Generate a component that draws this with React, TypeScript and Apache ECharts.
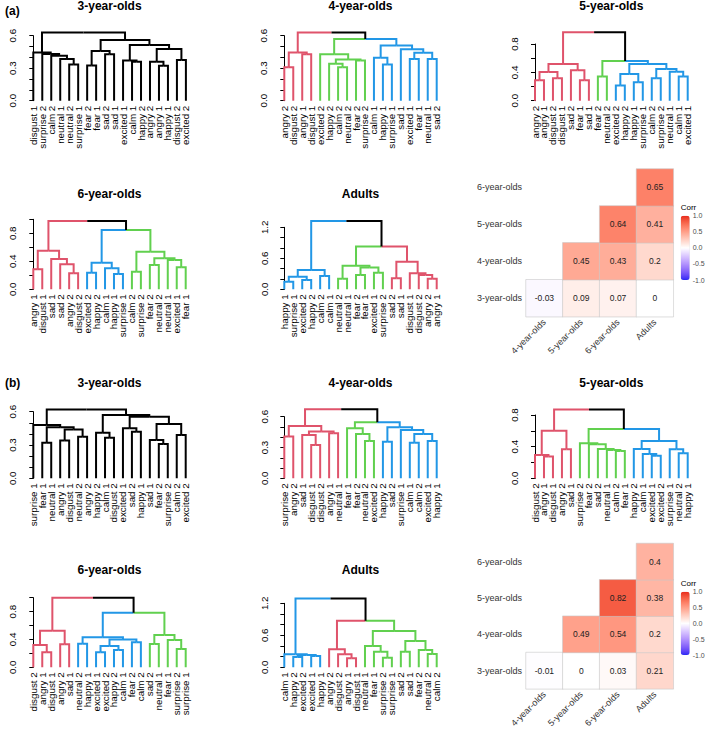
import React, { useEffect, useRef } from 'react';
import * as echarts from 'echarts';

const RED = '#DF536B';
const GREEN = '#61D04F';
const BLUE = '#2297E6';
const BLACK = '#000000';
const FONT = '"Liberation Sans", Arial, Helvetica, sans-serif';

// ---------- (a) ----------
const leavesA3 = ['disgust 1','surprise 2','calm 2','neutral 1','neutral 2','surprise 1','fear 2','fear 1','sad 2','sad 1','excited 1','calm 1','happy 2','angry 2','angry 1','happy 1','disgust 2','excited 2'];
// merge: [first leaf, first leaf of right child, end (exclusive), height]
const mergesA3 = [[4,5,6,0.335],[3,4,6,0.385],[2,3,6,0.415],[1,2,6,0.43],[0,1,6,0.446],[6,7,8,0.326],[8,9,10,0.428],[6,8,10,0.458],[11,12,13,0.36],[10,11,13,0.37],[14,15,16,0.323],[13,14,16,0.36],[16,17,18,0.375],[13,16,18,0.477],[10,13,18,0.514],[6,10,18,0.56],[0,6,18,0.63]];
const clustersA3 = [0];
const colorsA3 = [BLACK];

const leavesA4 = ['angry 2','disgust 2','angry 1','disgust 1','excited 2','happy 2','calm 2','neutral 2','fear 2','surprise 2','calm 1','happy 1','surprise 1','sad 1','excited 1','fear 1','neutral 1','sad 2'];
const mergesA4 = [[0,1,2,0.308],[2,3,4,0.428],[0,2,4,0.446],[6,7,8,0.308],[5,6,8,0.34],[8,9,10,0.37],[5,8,10,0.38],[4,5,10,0.428],[11,12,13,0.335],[10,11,13,0.397],[14,15,16,0.385],[16,17,18,0.385],[14,16,18,0.443],[13,14,18,0.474],[10,13,18,0.51],[4,10,18,0.57],[0,4,18,0.63]];
const clustersA4 = [0,4,10];
const colorsA4 = [RED, GREEN, BLUE];

const leavesA5 = ['angry 2','angry 1','disgust 2','disgust 1','sad 2','fear 1','sad 1','fear 2','neutral 2','excited 2','happy 2','happy 1','surprise 1','calm 2','surprise 2','neutral 1','calm 1','excited 1'];
const mergesA5 = [[0,1,2,0.287],[2,3,4,0.315],[0,2,4,0.405],[5,6,7,0.29],[4,5,7,0.43],[0,4,7,0.518],[7,8,9,0.34],[9,10,11,0.216],[11,12,13,0.259],[9,11,13,0.376],[13,14,15,0.315],[16,17,18,0.34],[15,16,18,0.41],[13,15,18,0.447],[9,13,18,0.518],[7,9,18,0.56],[0,7,18,0.965]];
const clustersA5 = [0,7,9];
const colorsA5 = [RED, GREEN, BLUE];

const leavesA6 = ['angry 1','disgust 1','sad 1','sad 2','angry 2','disgust 2','excited 2','happy 2','calm 1','happy 1','surprise 1','calm 2','surprise 2','fear 2','neutral 2','neutral 1','excited 1','fear 1'];
const mergesA6 = [[0,1,2,0.286],[4,5,6,0.229],[3,4,6,0.357],[2,3,6,0.433],[0,2,6,0.552],[6,7,8,0.238],[9,10,11,0.219],[8,9,11,0.3],[6,8,11,0.38],[11,12,13,0.252],[13,14,15,0.348],[16,17,18,0.314],[15,16,18,0.42],[13,15,18,0.443],[11,13,18,0.538],[6,11,18,0.848],[0,6,18,0.976]];
const clustersA6 = [0,6,11];
const colorsA6 = [RED, BLUE, GREEN];

const leavesAAd = ['happy 1','surprise 1','excited 2','happy 2','calm 2','calm 1','neutral 2','neutral 1','fear 2','fear 1','excited 1','surprise 2','sad 2','sad 1','disgust 1','disgust 2','angry 2','angry 1'];
const mergesAAd = [[0,1,2,0.148],[2,3,4,0.18],[0,2,4,0.245],[4,5,6,0.258],[0,4,6,0.374],[6,7,8,0.206],[8,9,10,0.277],[10,11,12,0.32],[8,10,12,0.42],[6,8,12,0.458],[12,13,14,0.213],[16,17,18,0.206],[15,16,18,0.277],[14,15,18,0.31],[12,14,18,0.535],[6,12,18,0.826],[0,6,18,1.32]];
const clustersAAd = [0,6,12];
const colorsAAd = [BLUE, GREEN, RED];

// ---------- (b) ----------
const leavesB3 = ['surprise 1','fear 1','neutral 1','angry 1','disgust 1','neutral 2','angry 2','happy 2','calm 1','disgust 2','excited 1','sad 2','happy 1','sad 1','fear 2','surprise 2','calm 2','excited 2'];
const mergesB3 = [[1,2,3,0.32],[3,4,5,0.34],[5,6,7,0.375],[3,5,7,0.44],[1,3,7,0.46],[0,1,7,0.48],[8,9,10,0.366],[7,8,10,0.41],[11,12,13,0.42],[10,11,13,0.45],[14,15,16,0.31],[13,14,16,0.345],[16,17,18,0.39],[13,16,18,0.49],[10,13,18,0.555],[7,10,18,0.57],[0,7,18,0.62]];
const clustersB3 = [0];
const colorsB3 = [BLACK];

const leavesB4 = ['surprise 2','angry 2','sad 1','disgust 1','disgust 2','angry 1','neutral 1','fear 1','fear 2','neutral 2','excited 2','happy 2','sad 2','surprise 1','calm 1','calm 2','excited 1','happy 1'];
const mergesB4 = [[0,1,2,0.406],[3,4,5,0.325],[2,3,5,0.422],[5,6,7,0.438],[2,5,7,0.455],[0,2,7,0.51],[9,10,11,0.364],[8,9,11,0.432],[7,8,11,0.487],[11,12,13,0.357],[14,15,16,0.347],[16,17,18,0.364],[14,16,18,0.432],[13,14,18,0.47],[11,13,18,0.497],[7,11,18,0.545],[0,7,18,0.672]];
const clustersB4 = [0,7,11];
const colorsB4 = [RED, GREEN, BLUE];

const leavesB5 = ['disgust 2','angry 1','disgust 1','angry 2','sad 1','surprise 2','fear 2','sad 2','neutral 1','calm 2','fear 1','happy 2','calm 1','excited 1','excited 2','surprise 1','neutral 2','happy 1'];
const mergesB5 = [[1,2,3,0.274],[0,1,3,0.295],[3,4,5,0.366],[0,3,5,0.6],[9,10,11,0.345],[8,9,11,0.358],[7,8,11,0.37],[6,7,11,0.43],[5,6,11,0.442],[13,14,15,0.286],[12,13,15,0.307],[11,12,15,0.37],[16,17,18,0.316],[15,16,18,0.366],[11,15,18,0.472],[5,11,18,0.623],[0,5,18,0.87]];
const clustersB5 = [0,5,11];
const colorsB5 = [RED, GREEN, BLUE];

const leavesB6 = ['disgust 2','angry 1','disgust 1','angry 2','sad 1','neutral 2','happy 1','excited 1','excited 2','happy 2','calm 1','fear 2','calm 2','sad 2','neutral 1','fear 1','surprise 2','surprise 1'];
const mergesB6 = [[1,2,3,0.215],[0,1,3,0.32],[3,4,5,0.33],[0,3,5,0.526],[5,6,7,0.34],[7,8,9,0.215],[9,10,11,0.249],[7,9,11,0.306],[11,12,13,0.36],[7,11,13,0.4],[5,7,13,0.43],[13,14,15,0.335],[16,17,18,0.263],[15,16,18,0.393],[13,15,18,0.464],[5,13,18,0.785],[0,5,18,1.0]];
const clustersB6 = [0,5,13];
const colorsB6 = [RED, BLUE, GREEN];

const leavesBAd = ['calm 1','happy 2','excited 2','excited 1','happy 1','angry 2','disgust 2','angry 1','disgust 1','neutral 1','fear 1','surprise 2','surprise 1','sad 2','sad 1','fear 2','neutral 2','calm 2'];
const mergesBAd = [[1,2,3,0.194],[3,4,5,0.21],[1,3,5,0.23],[0,1,5,0.245],[7,8,9,0.17],[6,7,9,0.245],[5,6,9,0.34],[11,12,13,0.18],[10,11,13,0.293],[9,10,13,0.4],[13,14,15,0.293],[16,17,18,0.25],[15,16,18,0.325],[13,15,18,0.494],[9,13,18,0.68],[5,9,18,0.875],[0,5,18,1.29]];
const clustersBAd = [0,5,9];
const colorsBAd = [BLUE, RED, GREEN];

// ---------- correlation matrices ----------
const heatX = ['4-year-olds','5-year-olds','6-year-olds','Adults'];
const heatY = ['3-year-olds','4-year-olds','5-year-olds','6-year-olds'];
const corrA = [[-0.03,0.09,0.07,0],[0.45,0.43,0.2],[0.64,0.41],[0.65]];
const corrB = [[-0.01,0,0.03,0.21],[0.49,0.54,0.2],[0.82,0.38],[0.4]];
const legendTicks = [-1, -0.5, 0, 0.5, 1];

const dendros = [
  { title: '3-year-olds', leaves: leavesA3, merges: mergesA3, starts: clustersA3, colors: colorsA3, yMax: 0.6, tick: 0.1, labelStep: 0.3 },
  { title: '4-year-olds', leaves: leavesA4, merges: mergesA4, starts: clustersA4, colors: colorsA4, yMax: 0.6, tick: 0.1, labelStep: 0.3 },
  { title: '5-year-olds', leaves: leavesA5, merges: mergesA5, starts: clustersA5, colors: colorsA5, yMax: 0.8, tick: 0.2, labelStep: 0.4 },
  { title: '6-year-olds', leaves: leavesA6, merges: mergesA6, starts: clustersA6, colors: colorsA6, yMax: 1.0, tick: 0.2, labelStep: 0.4 },
  { title: 'Adults', leaves: leavesAAd, merges: mergesAAd, starts: clustersAAd, colors: colorsAAd, yMax: 1.2, tick: 0.2, labelStep: 0.6 },
  { title: '3-year-olds', leaves: leavesB3, merges: mergesB3, starts: clustersB3, colors: colorsB3, yMax: 0.6, tick: 0.1, labelStep: 0.3 },
  { title: '4-year-olds', leaves: leavesB4, merges: mergesB4, starts: clustersB4, colors: colorsB4, yMax: 0.6, tick: 0.1, labelStep: 0.3 },
  { title: '5-year-olds', leaves: leavesB5, merges: mergesB5, starts: clustersB5, colors: colorsB5, yMax: 0.8, tick: 0.2, labelStep: 0.4 },
  { title: '6-year-olds', leaves: leavesB6, merges: mergesB6, starts: clustersB6, colors: colorsB6, yMax: 1.0, tick: 0.2, labelStep: 0.4 },
  { title: 'Adults', leaves: leavesBAd, merges: mergesBAd, starts: clustersBAd, colors: colorsBAd, yMax: 1.2, tick: 0.2, labelStep: 0.6 },
];

// layout (pixels): plot left, plot width, plot top, plot height, axis x, title top
const layouts = [
  { left: 33.3, width: 152.6, top: 35.7, height: 65.0, axisX: 22.0, titleTop: 0 },
  { left: 284.3, width: 152.4, top: 35.7, height: 65.0, axisX: 273.7, titleTop: 0 },
  { left: 535.0, width: 152.7, top: 44.0, height: 56.7, axisX: 524.0, titleTop: 0 },
  { left: 33.3, width: 152.4, top: 219.3, height: 70.0, axisX: 22.3, titleTop: 188 },
  { left: 284.3, width: 152.4, top: 227.3, height: 62.0, axisX: 274.0, titleTop: 188 },
  { left: 33.3, width: 152.4, top: 411.7, height: 66.6, axisX: 22.3, titleTop: 376.5 },
  { left: 284.3, width: 152.4, top: 416.7, height: 61.6, axisX: 274.0, titleTop: 376.5 },
  { left: 535.0, width: 152.7, top: 415.0, height: 63.3, axisX: 524.0, titleTop: 376.5 },
  { left: 33.3, width: 152.4, top: 597.7, height: 69.6, axisX: 22.3, titleTop: 564 },
  { left: 284.3, width: 152.4, top: 603.3, height: 64.0, axisX: 274.0, titleTop: 564 },
];
const heatLayouts = [
  { left: 526, width: 147.3, top: 169.0, height: 147.7, barTop: 215.7, barH: 64.3, corrTop: 203.5 },
  { left: 526, width: 147.3, top: 543.5, height: 147.2, barTop: 591.7, barH: 63.3, corrTop: 579.5 },
];

function buildSegments(merges: number[][], starts: number[], colors: string[], n: number) {
  const nodes = new Map<string, { x: number; h: number }>();
  for (let i = 0; i < n; i++) nodes.set(i + '-' + (i + 1), { x: i, h: 0 });
  const sorted = [...merges].sort((a, b) => (a[2] - a[0]) - (b[2] - b[0]));
  const clusterOf = (i: number) => { let c = 0; starts.forEach((s, k) => { if (i >= s) c = k; }); return c; };
  const colorOf = (lo: number, hi: number) => { const c = clusterOf(lo); return clusterOf(hi - 1) === c ? colors[c] : BLACK; };
  const segs: number[][] = [];
  const segColors: string[] = [];
  for (const [lo, mid, hi, h] of sorted) {
    const L = nodes.get(lo + '-' + mid)!;
    const R = nodes.get(mid + '-' + hi)!;
    const x = (L.x + R.x) / 2;
    nodes.set(lo + '-' + hi, { x, h });
    segs.push([x, h, L.x, L.h]); segColors.push(colorOf(lo, mid));
    segs.push([x, h, R.x, R.h]); segColors.push(colorOf(mid, hi));
  }
  return { segs, segColors };
}

// Lab interpolation like ggplot2 scale_fill_gradient2(space = "Lab")
function toLin(c: number) { c /= 255; return c <= 0.04045 ? c / 12.92 : Math.pow((c + 0.055) / 1.055, 2.4); }
function toS(c: number) { const v = c <= 0.0031308 ? 12.92 * c : 1.055 * Math.pow(c, 1 / 2.4) - 0.055; return Math.round(Math.max(0, Math.min(1, v)) * 255); }
const Xn = 0.95047, Zn = 1.08883;
function rgbToLab(rgb: number[]) {
  const [r, g, b] = rgb.map(toLin);
  const X = 0.4124 * r + 0.3576 * g + 0.1805 * b;
  const Y = 0.2126 * r + 0.7152 * g + 0.0722 * b;
  const Z = 0.0193 * r + 0.1192 * g + 0.9505 * b;
  const f = (t: number) => (t > 0.008856 ? Math.cbrt(t) : 7.787 * t + 16 / 116);
  const fx = f(X / Xn), fy = f(Y), fz = f(Z / Zn);
  return [116 * fy - 16, 500 * (fx - fy), 200 * (fy - fz)];
}
function labToHex(lab: number[]) {
  const fy = (lab[0] + 16) / 116, fx = fy + lab[1] / 500, fz = fy - lab[2] / 200;
  const fi = (t: number) => (t * t * t > 0.008856 ? t * t * t : (t - 16 / 116) / 7.787);
  const X = Xn * fi(fx), Y = fi(fy), Z = Zn * fi(fz);
  const r = 3.2406 * X - 1.5372 * Y - 0.4986 * Z;
  const g = -0.9689 * X + 1.8758 * Y + 0.0415 * Z;
  const b = 0.0557 * X - 0.204 * Y + 1.057 * Z;
  return '#' + [toS(r), toS(g), toS(b)].map((v) => v.toString(16).padStart(2, '0')).join('');
}
function gradientStops() {
  // end colours as they appear in the figure (slightly muted red / blue)
  const low = rgbToLab([40, 40, 245]), mid = rgbToLab([255, 255, 255]), high = rgbToLab([232, 40, 28]);
  const out: string[] = [];
  for (let i = 0; i <= 40; i++) {
    const v = -1 + i * 0.05;
    const [a, b, t] = v < 0 ? [low, mid, v + 1] : [mid, high, v];
    out.push(labToHex(a.map((x, k) => x + (b[k] - x) * t)));
  }
  return out;
}

function buildOption() {
  const grid: any[] = [], xAxis: any[] = [], yAxis: any[] = [], series: any[] = [], graphic: any[] = [], visualMap: any[] = [];
  dendros.forEach((d, i) => {
    const L = layouts[i];
    const { segs, segColors } = buildSegments(d.merges, d.starts, d.colors, d.leaves.length);
    const gi = grid.length;
    grid.push({ left: L.left, top: L.top, width: L.width, height: L.height, containLabel: false });
    const xi = xAxis.length;
    // geometry axis (hidden)
    xAxis.push({ type: 'value', gridIndex: gi, position: 'bottom', min: 0, max: d.leaves.length - 1, show: false });
    // leaf label axis
    xAxis.push({
      type: 'category', gridIndex: gi, position: 'bottom', data: d.leaves, boundaryGap: false,
      axisLine: { show: false }, axisTick: { show: false }, splitLine: { show: false },
      axisLabel: { interval: 0, rotate: 90, margin: 5, fontSize: 9.8, color: '#000', fontFamily: FONT, hideOverlap: false },
    });
    const yi = yAxis.length;
    yAxis.push({
      type: 'value', gridIndex: gi, position: 'left', min: 0, max: d.yMax, interval: d.tick, offset: L.left - L.axisX,
      axisLine: { show: true, lineStyle: { color: '#000', width: 1 } },
      axisTick: { show: true, length: 4, lineStyle: { color: '#000', width: 1 } },
      splitLine: { show: false },
      axisLabel: { rotate: 90, margin: 5, fontSize: 9.8, color: '#000', fontFamily: FONT, showMaxLabel: true,
        formatter: (v: number) => { const q = v / d.labelStep; return Math.abs(q - Math.round(q)) < 1e-6 ? v.toFixed(1) : ''; } },
    });
    series.push({
      type: 'custom', xAxisIndex: xi, yAxisIndex: yi, silent: true, clip: false,
      data: segs, encode: { x: [0, 2], y: [1, 3] },
      renderItem: (params: any, api: any) => {
        const p0 = api.coord([api.value(0), api.value(1)]);
        const p1 = api.coord([api.value(2), api.value(1)]);
        const p2 = api.coord([api.value(2), api.value(3)]);
        return { type: 'polyline', shape: { points: [p0, p1, p2] },
          style: { stroke: segColors[params.dataIndex], lineWidth: 2, fill: null, lineJoin: 'miter', lineCap: 'butt' } };
      },
    });
    graphic.push({ type: 'text', x: L.left + L.width / 2, y: L.titleTop,
      style: { text: d.title, align: 'center', verticalAlign: 'top', font: `bold 12px ${FONT}`, fill: '#000' } });
  });

  const stops = gradientStops();
  [corrA, corrB].forEach((corr, h) => {
    const H = heatLayouts[h];
    const gi = grid.length;
    grid.push({ left: H.left, top: H.top, width: H.width, height: H.height, containLabel: false });
    const xi = xAxis.length;
    xAxis.push({ type: 'category', gridIndex: gi, position: 'bottom', data: heatX, axisLine: { show: false }, axisTick: { show: false }, splitLine: { show: false },
      axisLabel: { interval: 0, rotate: 45, margin: 4, fontSize: 9, color: '#333', fontFamily: FONT } });
    const yi = yAxis.length;
    yAxis.push({ type: 'category', gridIndex: gi, position: 'left', data: heatY, axisLine: { show: false }, axisTick: { show: false }, splitLine: { show: false },
      axisLabel: { interval: 0, margin: 4, fontSize: 9, color: '#333', fontFamily: FONT } });
    const data: number[][] = [];
    corr.forEach((row, j) => row.forEach((v, k) => data.push([j + k, j, v])));
    const si = series.length;
    series.push({ type: 'heatmap', xAxisIndex: xi, yAxisIndex: yi, data,
      itemStyle: { borderColor: '#C8C8C8', borderWidth: 0.6 },
      label: { show: true, fontSize: 8.5, color: '#222', fontFamily: FONT, formatter: (p: any) => String(p.value[2]) } });
    visualMap.push({ type: 'continuous', min: -1, max: 1, dimension: 2, seriesIndex: si, calculable: false, hoverLink: false,
      inRange: { color: stops }, itemWidth: 9, itemHeight: H.barH, left: 680.7, top: H.barTop, padding: 0, orient: 'vertical' });
    // legend tick labels, placed by a value axis
    const li = grid.length;
    grid.push({ left: 680.7, top: H.barTop, width: 9, height: H.barH, containLabel: false });
    xAxis.push({ type: 'value', gridIndex: li, position: 'bottom', show: false, min: 0, max: 1 });
    yAxis.push({ type: 'value', gridIndex: li, position: 'right', min: -1, max: 1, interval: 0.5,
      axisLine: { show: false }, splitLine: { show: false },
      axisTick: { show: true, inside: true, length: 2, lineStyle: { color: '#fff', width: 1 } },
      axisLabel: { margin: 3, fontSize: 7, color: '#4D4D4D', fontFamily: FONT, formatter: (v: number) => legendTicks.includes(v) ? v.toFixed(1) : '' } });
    graphic.push({ type: 'text', x: 680.7, y: H.corrTop, style: { text: 'Corr', align: 'left', verticalAlign: 'top', font: `8px ${FONT}`, fill: '#000' } });
  });

  graphic.push({ type: 'text', x: 5, y: 5, style: { text: '(a)', verticalAlign: 'top', font: `bold 12px ${FONT}`, fill: '#000' } });
  graphic.push({ type: 'text', x: 5, y: 377, style: { text: '(b)', verticalAlign: 'top', font: `bold 12px ${FONT}`, fill: '#000' } });

  return { animation: false, backgroundColor: '#ffffff', textStyle: { fontFamily: FONT }, grid, xAxis, yAxis, series, visualMap, graphic };
}

export default function App() {
  const ref = useRef<HTMLDivElement>(null);
  useEffect(() => {
    const chart = echarts.init(ref.current!, null, { renderer: 'svg' });
    chart.setOption(buildOption() as any);
    return () => chart.dispose();
  }, []);
  return <div ref={ref} style={{ position: 'absolute', left: 0, top: 0, width: 709, height: 730, background: '#fff' }} />;
}
